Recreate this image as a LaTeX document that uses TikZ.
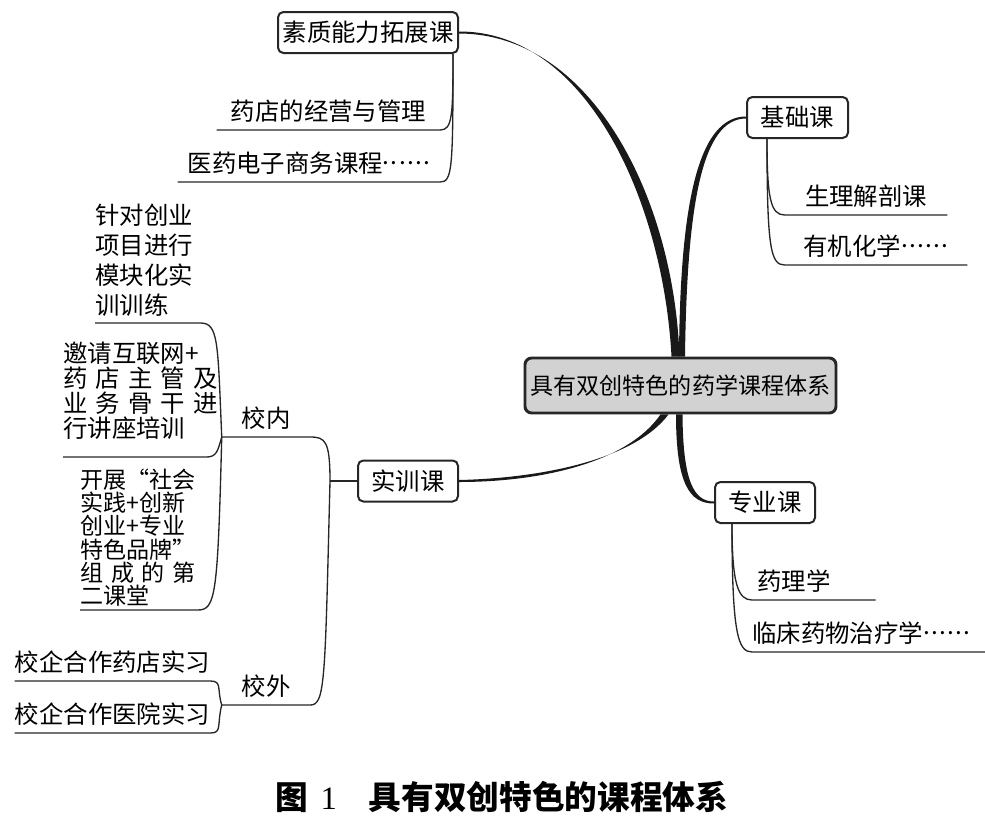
\documentclass[tikz,border=0pt]{standalone}
\usepackage{fontspec}
\newfontfamily\cjk{Noto Sans CJK SC}
\newfontfamily\capnum{Liberation Serif}
\newlength{\pxl}
\setlength{\pxl}{0.75pt}
\newcommand{\lastdp}[1]{\rule[-#1]{0pt}{#1}}
\newcommand{\fw}[1]{{\addfontfeatures{CharacterWidth=Full}#1}}
\newcommand{\cjkdots}{\raisebox{0.32em}{\makebox[1.95em][s]{.\hfill.\hfill.\hfill.\hfill.\hfill.}}}

\begin{document}
\begin{tikzpicture}[x=0.75pt, y=-0.75pt,
    topic/.style={draw=black!85, line width=1.5pt, rounded corners=4pt, fill=white, inner sep=0pt,
      minimum height=41\pxl, font=\cjk\fontsize{18.3pt}{22pt}\selectfont},
    rootbox/.style={topic, fill=gray!35, line width=2.2pt, rounded corners=5pt,
      minimum height=55\pxl, font=\cjk\fontsize{17.3pt}{21pt}\selectfont},
    leaf/.style={inner sep=0pt, text height=14pt, text depth=7.3pt, anchor=south,
      font=\cjk\fontsize{18.3pt}{22pt}\selectfont},
    block/.style={inner sep=0pt, anchor=south west, align=left},
    branch/.style={draw=black!85, line width=1pt},
    trunk/.style={fill=black!90}]

    \useasboundingbox (0,0) rectangle (985,818);

    % Central topic
    \node[rootbox, minimum width=311\pxl] (root) at (680.5,385.5) {具有双创特色的药学课程体系};

    % Main branches
    \node[topic, minimum width=180\pxl] (suzhi) at (368,32.5) {素质能力拓展课};
    \node[topic, minimum width=101\pxl] (jichu) at (797.5,117.5) {基础课};
    \node[topic, minimum width=100\pxl] (zhuanye) at (765,502.5) {专业课};
    \node[topic, minimum width=100\pxl] (shixun) at (408,481) {实训课};

    % Tapered curves from the centre
    \fill[trunk] ([xshift=-9\pxl]root.north) .. controls (663,200) and (586,31) .. ([yshift=1\pxl]suzhi.east)
      -- ([yshift=-1\pxl]suzhi.east) .. controls (593,34) and (674,200) .. ([xshift=-1\pxl]root.north) -- cycle;
    \fill[trunk] ([xshift=-1.5\pxl]root.north) .. controls (680,200) and (699,116.5) .. ([yshift=1\pxl]jichu.west)
      -- ([yshift=-1\pxl]jichu.west) .. controls (703,118.5) and (687,200) .. ([xshift=4.5\pxl]root.north) -- cycle;
    \fill[trunk] ([xshift=-4.5\pxl]root.south) .. controls (676,485) and (690,503.5) .. ([yshift=-1\pxl]zhuanye.west)
      -- ([yshift=1\pxl]zhuanye.west) .. controls (694,501.5) and (683,482) .. ([xshift=2\pxl]root.south) -- cycle;
    \fill[trunk] ([xshift=-20\pxl]root.south) .. controls (627,463) and (540,482) .. ([yshift=-1\pxl]shixun.east)
      -- ([yshift=1\pxl]shixun.east) .. controls (544,478) and (635,459) .. ([xshift=-12\pxl]root.south) -- cycle;

    % Suzhi branch
    \node[leaf, minimum width=223\pxl] (yaodian) at (328.5,130) {药店的经营与管理};
    \node[leaf, minimum width=262\pxl] (dianzi) at (309,182) {医药电子商务课程\cjkdots};
    \coordinate (suzhiT) at ([xshift=-6\pxl]suzhi.south east);
    \draw[branch] (suzhiT) .. controls +(0,62) and +(12,0) .. (yaodian.south east) -- (yaodian.south west);
    \draw[branch] (suzhiT) .. controls +(0,115) and +(12,0) .. (dianzi.south east) -- (dianzi.south west);

    % Jichu branch
    \node[leaf, minimum width=162\pxl] (shengli) at (866,215) {生理解剖课};
    \node[leaf, minimum width=182\pxl] (youji) at (876,265) {有机化学\cjkdots};
    \coordinate (jichuT) at ([xshift=21\pxl]jichu.south west);
    \draw[branch] (jichuT) .. controls +(0,60) and +(-14,0) .. (shengli.south west) -- (shengli.south east);
    \draw[branch] (jichuT) .. controls +(0,110) and +(-14,0) .. (youji.south west) -- (youji.south east);

    % Zhuanye branch
    \node[leaf, anchor=south west, text width=113\pxl, inner xsep=5\pxl, align=left] (yaoli) at (752,600) {药理学};
    \node[leaf, anchor=south west, text width=233\pxl, align=left] (linchuang) at (752,652) {临床药物治疗学\cjkdots};
    \coordinate (zhuanyeT) at ([xshift=18\pxl]zhuanye.south west);
    \draw[branch] (zhuanyeT) .. controls +(0,60) and +(-14,0) .. (yaoli.south west) -- (yaoli.south east);
    \draw[branch] (zhuanyeT) .. controls +(0,110) and +(-14,0) .. (linchuang.south west) -- (linchuang.south east);

    % Shixun branch: inside and outside school
    \node[leaf, minimum width=88\pxl] (xiaonei) at (266,437) {校内};
    \node[leaf, minimum width=88\pxl] (xiaowai) at (266,705) {校外};
    \coordinate (shixunT) at (330,481);
    \draw[branch] (shixun.west) -- (shixunT);
    \draw[branch] (shixunT) .. controls +(0,-40) and +(15,0) .. (xiaonei.south east) -- (xiaonei.south west);
    \draw[branch] (shixunT) .. controls +(-5,200) and +(15,0) .. (xiaowai.south east) -- (xiaowai.south west);

    % Inside school
    \node[block, text width=105\pxl, font=\cjk\fontsize{18.3pt}{22.5pt}\selectfont] (zhendui) at (95,323)
      {针对创业\\项目进行\\模块化实\\训训练\lastdp{6.5pt}};
    \node[block, text width=143\pxl, font=\cjk\fontsize{18.3pt}{18.75pt}\selectfont] (yaoqing) at (63,457)
      {邀请互联网+\\\makebox[143\pxl][s]{药 店 主 管 及}\\\makebox[143\pxl][s]{业 务 骨 干 进}\\行讲座培训\lastdp{14.8pt}};
    \node[block, text width=117\pxl, font=\cjk\fontsize{17.3pt}{17.4pt}\selectfont] (kaizhan) at (80,610)
      {开展\fw{“}社会\\实践+创新\\创业+专业\\特色品牌\fw{”}\\\makebox[115\pxl][s]{组 成 的 第}\\二课堂\lastdp{3.9pt}};
    \draw[branch] (xiaonei.south west) .. controls +(-4,-95) and +(18,0) .. (zhendui.south east) -- (zhendui.south west);
    \draw[branch] (xiaonei.south west) .. controls +(-4,14) and +(10,0) .. (yaoqing.south east) -- (yaoqing.south west);
    \draw[branch] (xiaonei.south west) .. controls +(-4,160) and +(18,0) .. (kaizhan.south east) -- (kaizhan.south west);

    % Outside school
    \node[leaf, minimum width=185\pxl] (qiyaodian) at (112.5,681) {校企合作药店实习};
    \node[leaf, minimum width=185\pxl] (qiyiyuan) at (112.5,733) {校企合作医院实习};
    \draw[branch] (xiaowai.south west) .. controls +(-5,-16) and +(12,0) .. (qiyaodian.south east) -- (qiyaodian.south west);
    \draw[branch] (xiaowai.south west) .. controls +(-5,20) and +(12,0) .. (qiyiyuan.south east) -- (qiyiyuan.south west);

    % Caption
    \node[font=\cjk\bfseries\fontsize{24.5pt}{28pt}\selectfont] (caption) at (502,797)
      {图\hspace{9pt}{\capnum\mdseries 1}\hspace{24pt}具有双创特色的课程体系};
\end{tikzpicture}
\end{document}
